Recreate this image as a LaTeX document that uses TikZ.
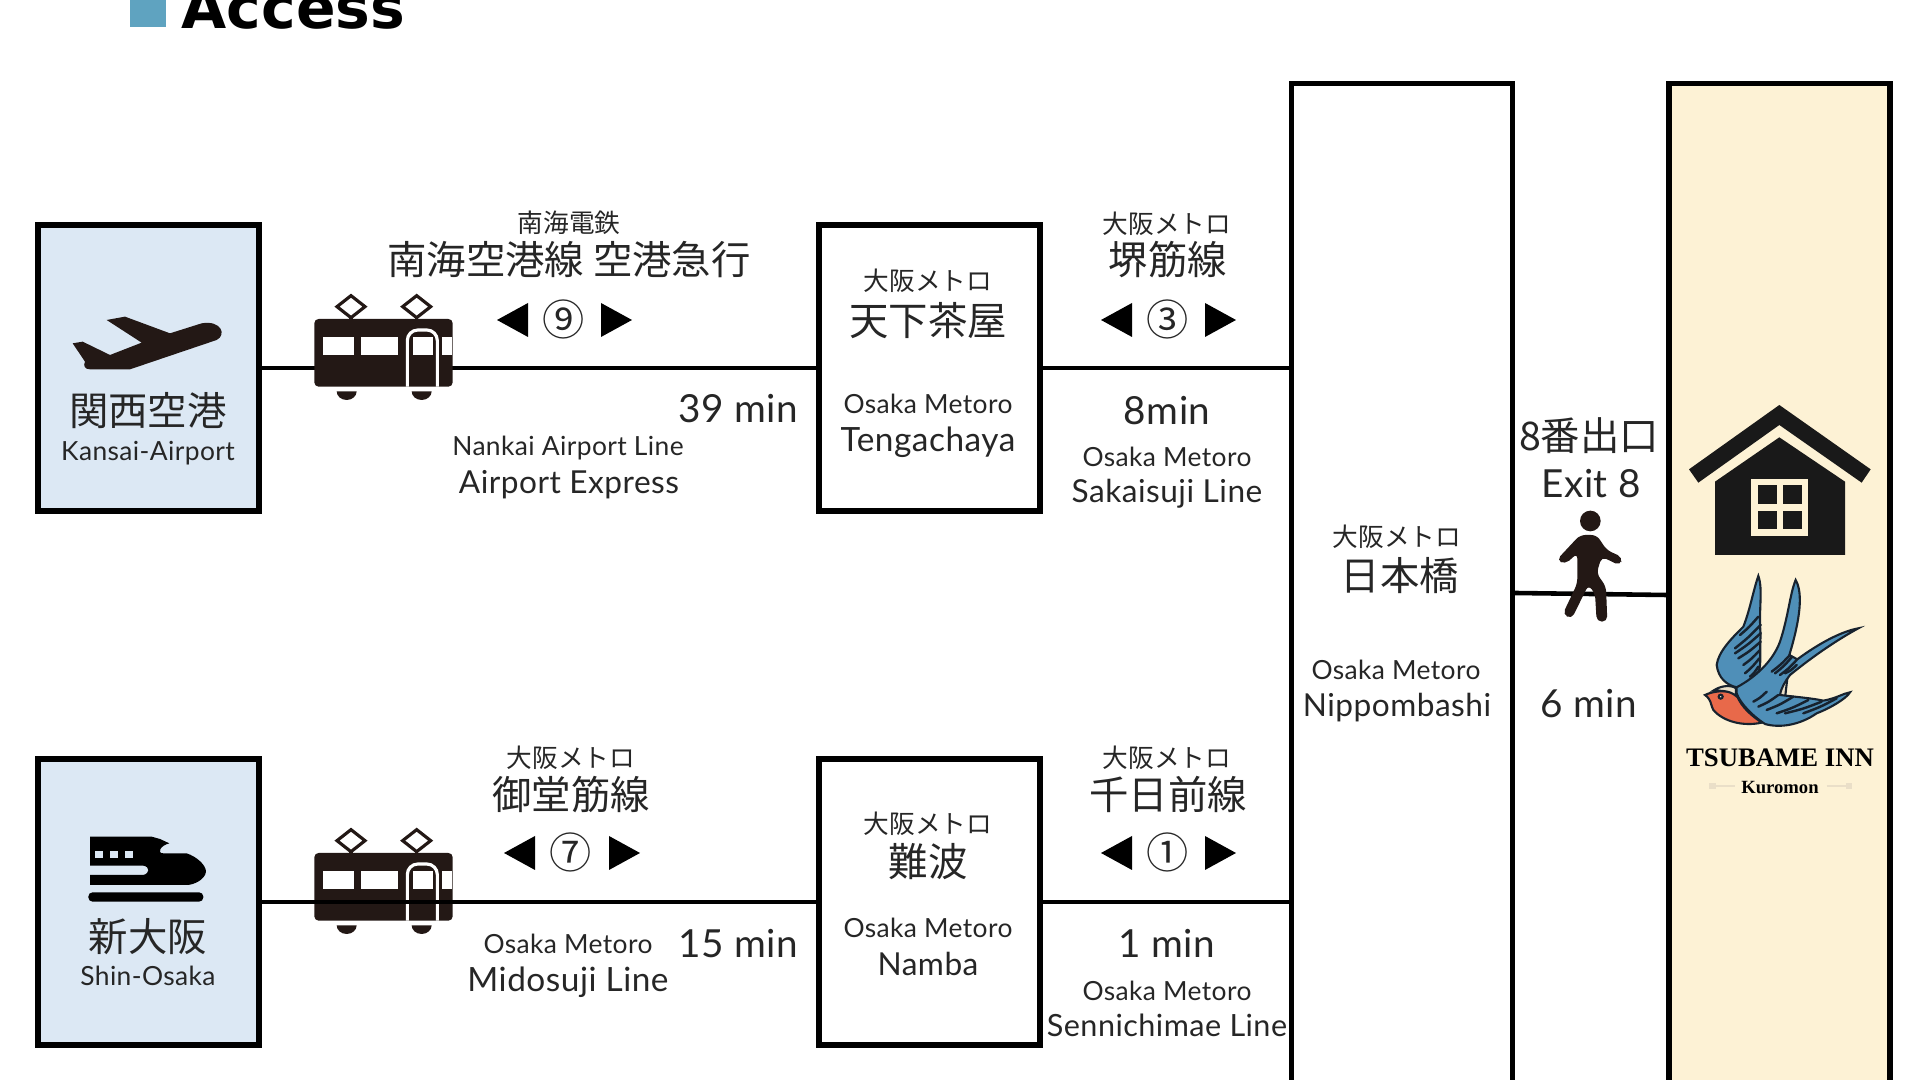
\documentclass[tikz,border=0pt]{standalone}
\usepackage{fontspec}
\setmainfont{Lato}[LetterSpace=1.5]
\newfontfamily\jpfont{Noto Sans CJK JP}
\newfontfamily\accessfont{DejaVu Sans}
\newfontfamily\innfont{Liberation Serif}
\usetikzlibrary{positioning}
\definecolor{iconK}{HTML}{231815}
\definecolor{skyB}{HTML}{DCE8F4}
\definecolor{creamB}{HTML}{FDF2D5}
\definecolor{squareB}{HTML}{5FA3C0}
\definecolor{wingB}{HTML}{4F8FB8}
\definecolor{bellyR}{HTML}{E8694A}
\definecolor{capW}{HTML}{EADFC8}
\definecolor{inkB}{HTML}{17222E}
\newcommand{\trainicon}[1]{%
\begin{scope}[shift={(300,#1)},scale=1/3]
\fill[iconK,rounded corners=1.2pt] (43,117) rectangle (458,320);
\foreach \xa/\xb in {68/163,182/295,340/398,427/455}
  \fill[white] (\xa,172) rectangle (\xb,226);
\draw[white,line width=0.9pt,rounded corners=3pt] (322,320) -- (322,150) -- (412,150) -- (412,320);
\foreach \xa in {153,350} {
  \draw[iconK,line width=0.9pt] (\xa-42,80) -- (\xa,47) -- (\xa+42,80) -- (\xa,113) -- cycle;
  \draw[iconK,line width=0.9pt] (\xa,113) -- (\xa,117);
}
\foreach \xa in {140,365}
  \fill[iconK] (\xa-30,334) -- (\xa+30,334) arc[start angle=0,end angle=180,x radius=30,y radius=26] -- cycle;
\end{scope}}
\newcommand{\dirmarks}[3]{%
\fill (#1+31,#3-17) -- (#1,#3) -- (#1+31,#3+17) -- cycle;
\fill (#2,#3-17) -- (#2+31,#3) -- (#2,#3+17) -- cycle;}

\begin{document}
\begin{tikzpicture}[x=0.01cm,y=-0.01cm,
station/.style={shape=rectangle,draw=black,line width=1.5pt,minimum width=2.21cm,minimum height=2.86cm},
stationS/.style={station,fill=skyB},
tall/.style={station,minimum height=10.16cm},
railline/.style={draw=black,line width=1.3pt},
lbl/.style={anchor=mid,inner sep=0pt,text=black!85},
jpS/.style={lbl,yshift=-0.012cm,font=\jpfont\fontsize{7.3}{9}\selectfont},
jpL/.style={lbl,yshift=-0.055cm,font=\jpfont\fontsize{11.2}{13}\selectfont},
latS/.style={lbl,font=\fontsize{7.5}{9}\selectfont},
latM/.style={lbl,yshift=-0.025cm,font=\fontsize{9}{11}\selectfont},
latW/.style={latM,font=\fontsize{9.5}{11}\selectfont},
latL/.style={lbl,yshift=-0.05cm,font=\fontsize{11}{13}\selectfont},
circ/.style={lbl,yshift=-0.07cm,font=\jpfont\fontsize{12}{14}\selectfont}]
\useasboundingbox (0,0) rectangle (1920,1080);
\clip (0,0) rectangle (1920,1080);

% title
\fill[squareB] (130,-10) rectangle (166,27);
\node[anchor=base west,inner sep=0pt,font=\accessfont\bfseries\fontsize{16.6}{20}\selectfont] (title) at (181,29) {Access};

% boxes
\node[stationS] (KIX) at (148.5,368) {};
\node[stationS] (SO) at (148.5,902) {};
\node[station] (TG) at (929.5,368) {};
\node[station] (NB) at (929.5,902) {};
\node[tall] (NP) at (1402,592) {};
\node[tall,fill=creamB] (INN) at (1779.5,592) {};

% connectors
\coordinate (walkA) at (NP.east |- 0,593);
\coordinate (walkB) at (INN.west |- 0,595);
\draw[railline] (KIX) -- (TG);
\trainicon{280}
\trainicon{814}
\draw[railline] (SO) -- (NB);
\draw[railline] (TG.east) -- (TG.east -| NP.west);
\draw[railline] (NB.east) -- (NB.east -| NP.west);
\draw[railline] (walkA) -- (walkB);

% icons
\begin{scope}[shift={(60,300)},scale=1/3]
\fill[iconK] (140,60) -- (195,50) -- (330,100) -- (425,70) .. controls (485,60) and (500,105) .. (470,120) -- (210,208) -- (90,208) .. controls (72,208) and (70,195) .. (75,185) -- (38,130) -- (68,125) -- (150,165) -- (245,128) -- cycle;
\end{scope}
\begin{scope}[shift={(80,825)},scale=1/3]
\fill[black] (30,35) -- (215,35) -- (240,42) -- (268,55) .. controls (240,62) and (230,85) .. (250,85) -- (320,85) .. controls (350,95) and (378,120) .. (378,140) .. controls (375,165) and (340,180) .. (320,180) -- (30,180) -- (30,150) -- (190,150) .. controls (210,145) and (210,125) .. (190,122) -- (30,122) -- cycle;
\foreach \xa in {45,90,135}
  \fill[skyB] (\xa,78) rectangle (\xa+25,100);
\fill[black,rounded corners=1.2pt] (25,202) rectangle (370,230);
\end{scope}

% kansai side
\node[jpL] (KIXj) at (148,411) {関西空港};
\node[latS] (KIXe) at (148,452) {Kansai-Airport};
\node[jpS] (Nk) at (569,222) {南海電鉄};
\node[jpL] (NkL) at (569,260) {南海空港線 空港急行};
\node[circ] (c9) at (564,320) {⑨};
\dirmarks{497}{601}{320}
\node[latL] (t39) at (738,409) {39 min};
\node[latS] (NkE) at (568,447) {Nankai Airport Line};
\node[latM] (NkX) at (569,482) {Airport Express};
\node[jpS] (TGa) at (928,280) {大阪メトロ};
\node[jpL] (TGj) at (928,321) {天下茶屋};
\node[latS] (TGb) at (928,405) {Osaka Metoro};
\node[latW] (TGe) at (928,440) {Tengachaya};
\node[jpS] (SKa) at (1167,223) {大阪メトロ};
\node[jpL] (SKj) at (1168,260) {堺筋線};
\node[circ] (c3) at (1168,320) {③};
\dirmarks{1101}{1205}{320}
\node[latL] (t8) at (1167,411) {8min};
\node[latS] (SKb) at (1167,458) {Osaka Metoro};
\node[latM] (SKe) at (1167,491) {Sakaisuji Line};

% shin-osaka side
\node[jpL] (SOj) at (148,937) {新大阪};
\node[latS] (SOe) at (148,977) {Shin-Osaka};
\node[jpS] (MDa) at (571,757) {大阪メトロ};
\node[jpL] (MDj) at (571,795) {御堂筋線};
\node[circ] (c7) at (571,853) {⑦};
\dirmarks{504}{609}{853}
\node[latL] (t15) at (738,944) {15 min};
\node[latS] (MDb) at (568,945) {Osaka Metoro};
\node[latW] (MDe) at (568,980) {Midosuji Line};
\node[jpS] (NBa) at (928,823) {大阪メトロ};
\node[jpL] (NBj) at (928,862) {難波};
\node[latS] (NBb) at (928,929) {Osaka Metoro};
\node[latM] (NBe) at (928,964) {Namba};
\node[jpS] (SNa) at (1167,757) {大阪メトロ};
\node[jpL] (SNj) at (1168,795) {千日前線};
\node[circ] (c1) at (1168,853) {①};
\dirmarks{1101}{1205}{853}
\node[latL] (t1) at (1167,944) {1 min};
\node[latS] (SNb) at (1167,992) {Osaka Metoro};
\node[latM,font=\fontsize{8.7}{11}\selectfont] (SNe) at (1167,1025) {Sennichimae Line};

% nippombashi and exit
\node[jpS] (NPa) at (1397,536) {大阪メトロ};
\node[jpL] (NPj) at (1400,576) {日本橋};
\node[latS] (NPb) at (1396,671) {Osaka Metoro};
\node[latM] (NPe) at (1397,705) {Nippombashi};
\node[jpL] (EXj) at (1589,436) {8番出口};
\node[latL] (EXe) at (1591,484) {Exit 8};
\node[latL] (t6) at (1589,704) {6 min};

% walker, house
\begin{scope}[shift={(1500,380)},scale=1/3]
\fill[iconK] (271,423) circle (31);
\fill[iconK,rounded corners=1.5pt] (240,465) -- (290,465) -- (320,510) -- (368,532) -- (360,557) -- (305,530) -- (290,580) -- (318,620) -- (322,725) -- (290,725) -- (285,640) -- (265,615) -- (215,717) -- (188,703) -- (232,610) -- (232,520) -- (195,553) -- (170,540) -- cycle;
\fill[black!90] (567,268) -- (838,75) -- (1112,268) -- (1085,308) -- (838,135) -- (595,308) -- cycle;
\fill[black!90] (645,525) -- (645,305) -- (838,172) -- (1035,305) -- (1035,525) -- cycle;
\fill[creamB] (753,296) rectangle (925,467);
\foreach \xa in {773,850} \foreach \ya in {316,392}
  \fill[black!90] (\xa,\ya) rectangle (\xa+57,\ya+56);
\draw[capW,line width=0.6pt] (630,1218) -- (705,1218) (980,1218) -- (1050,1218);
\draw[capW,line width=0.6pt] (630,1211) rectangle (644,1225) (1040,1211) rectangle (1054,1225);
\end{scope}

% swallow
\begin{scope}[shift={(1690,570)},scale=1/3,line width=0.6pt,draw=inkB]
\filldraw[fill=capW] (255,375) -- (292,325) -- (285,385) -- cycle;
\filldraw[fill=wingB] (205,18) .. controls (220,60) and (205,120) .. (212,195) .. controls (208,250) and (215,290) .. (205,305) .. controls (185,330) and (160,345) .. (140,352) .. controls (110,345) and (85,325) .. (80,285) .. controls (85,245) and (125,205) .. (160,170) .. controls (180,120) and (190,60) .. (205,18) -- cycle;
\filldraw[fill=wingB] (317,30) .. controls (340,70) and (330,150) .. (298,255) -- (322,268) .. controls (380,225) and (450,185) .. (505,175) .. controls (450,205) and (380,250) .. (300,315) .. controls (285,335) and (275,350) .. (270,375) .. controls (310,380) and (370,385) .. (400,392) .. controls (440,385) and (460,370) .. (480,367) .. controls (470,385) and (420,415) .. (380,430) .. controls (330,465) and (270,475) .. (225,462) .. controls (190,440) and (150,400) .. (140,370) -- (140,352) .. controls (200,320) and (250,270) .. (270,215) .. controls (295,140) and (300,70) .. (317,30) -- cycle;
\filldraw[fill=bellyR] (45,375) .. controls (65,390) and (60,400) .. (70,420) .. controls (100,455) and (160,470) .. (215,458) .. controls (190,440) and (155,415) .. (140,375) .. controls (125,360) and (75,360) .. (45,375) -- cycle;
\filldraw[fill=capW] (70,362) .. controls (95,345) and (125,345) .. (138,355) -- (138,378) .. controls (120,362) and (95,362) .. (70,362) -- cycle;
\filldraw[fill=capW] (92,380) circle (6);
\foreach \xa/\ya/\xb/\yb in {205/140/150/195,212/165/135/235,212/190/135/250,212/215/145/265,210/240/160/285,208/265/165/310,205/290/180/320,300/255/245/305,305/262/255/310,320/270/270/315,320/285/285/310,230/365/190/395,265/375/205/410,310/380/230/420,355/390/260/430,395/395/285/430,440/385/340/430}
  \draw[line width=0.7pt,line cap=round] (\xa,\ya) .. controls (\xa/2+\xb/2,\ya/2+\yb/2+4) .. (\xb,\yb);
\end{scope}

\node[anchor=mid,inner sep=0pt,font=\innfont\bfseries\fontsize{7.6}{10}\selectfont] (innT) at (1780,758) {TSUBAME INN};
\node[anchor=mid,inner sep=0pt,font=\innfont\bfseries\fontsize{5.3}{7}\selectfont] (innK) at (1780,785) {Kuromon};
\end{tikzpicture}
\end{document}
